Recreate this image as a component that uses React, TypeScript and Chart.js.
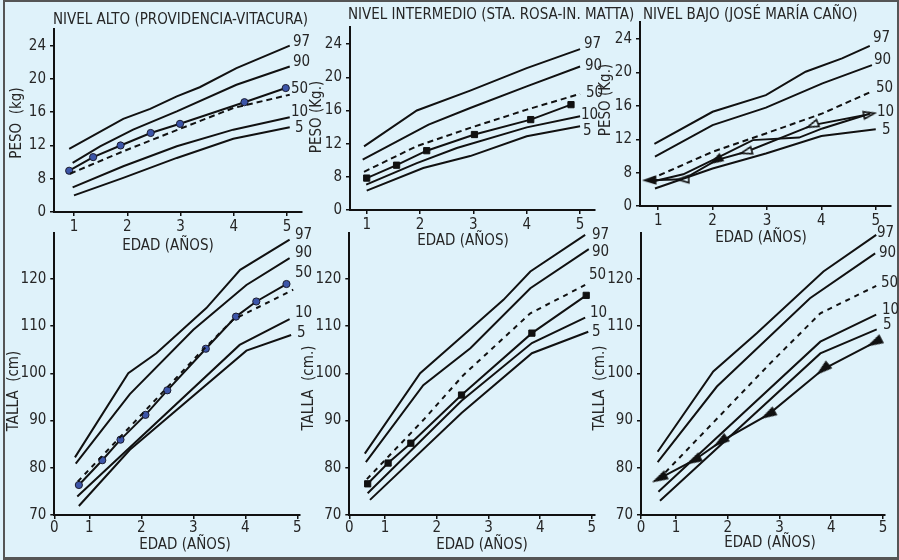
import React, { useEffect, useRef } from "react";
import { Chart, registerables } from "chart.js";

Chart.register(...registerables);

type Pt = [number, number];

// ---------------- DATA (age in years, value) ----------------
// PESO – nivel alto
const PESO_ALTO_P97: Pt[] = [[0.91, 11.6], [1.925, 15.2], [2.43, 16.4], [2.93, 17.9], [3.36, 19.0], [4.05, 21.3], [5.05, 24.0]];
const PESO_ALTO_P90: Pt[] = [[0.975, 9.9], [1.49, 11.9], [2.11, 13.9], [2.93, 16.1], [4.05, 19.3], [5.05, 21.5]];
const PESO_ALTO_P50: Pt[] = [[0.925, 8.6], [1.925, 11.3], [2.99, 14.0], [3.99, 16.5], [5.05, 18.1]];
const PESO_ALTO_P10: Pt[] = [[0.975, 6.96], [1.925, 9.5], [2.93, 11.9], [3.99, 13.9], [5.05, 15.4]];
const PESO_ALTO_P5: Pt[] = [[1.0, 6.0], [1.925, 8.1], [2.93, 10.5], [3.99, 12.8], [5.05, 14.2]];
const PESO_ALTO_OBS: Pt[] = [[0.91, 8.96], [1.36, 10.6], [1.875, 12.0], [2.44, 13.5], [2.99, 14.6], [4.2, 17.2], [4.975, 18.9]];

// PESO – nivel intermedio
const PESO_INT_P97: Pt[] = [[0.95, 11.67], [1.94, 16.0], [2.94, 18.4], [4.0, 21.1], [5.0, 23.4]];
const PESO_INT_P90: Pt[] = [[0.925, 10.06], [2.16, 14.3], [2.94, 16.3], [4.0, 18.9], [5.0, 21.3]];
const PESO_INT_P50: Pt[] = [[0.95, 8.6], [1.94, 11.7], [2.94, 13.9], [4.0, 16.1], [5.0, 18.0]];
const PESO_INT_P10: Pt[] = [[0.99, 7.05], [1.94, 9.66], [2.69, 11.47], [4.0, 13.96], [5.0, 15.3]];
const PESO_INT_P5: Pt[] = [[1.0, 6.33], [2.06, 9.06], [2.94, 10.5], [4.0, 12.9], [5.0, 14.1]];
const PESO_INT_OBS: Pt[] = [[1.0, 7.85], [1.56, 9.4], [2.125, 11.15], [3.02, 13.1], [4.075, 14.9], [4.83, 16.7]];

// PESO – nivel bajo
const PESO_BAJO_P97: Pt[] = [[0.93, 11.44], [2.0, 15.3], [2.98, 17.3], [3.71, 20.1], [4.38, 21.7], [4.89, 23.2]];
const PESO_BAJO_P90: Pt[] = [[0.94, 9.92], [2.0, 13.7], [2.98, 15.8], [4.02, 18.7], [4.93, 20.9]];
const PESO_BAJO_P50: Pt[] = [[0.85, 7.2], [2.0, 10.5], [2.98, 12.7], [4.02, 15.1], [4.88, 17.6]];
const PESO_BAJO_P10: Pt[] = [[0.88, 6.9], [1.46, 7.8], [2.0, 9.5], [2.74, 11.9], [3.59, 12.2], [4.02, 13.3], [4.9, 15.1]];
const PESO_BAJO_P5: Pt[] = [[0.94, 6.1], [2.0, 8.5], [2.98, 10.3], [4.0, 12.4], [5.0, 13.2]];
const PESO_BAJO_OBS: Pt[] = [[0.85, 7.1], [1.46, 7.2], [2.07, 9.5], [2.62, 10.5], [3.84, 13.7], [4.88, 15.0]];

// TALLA – nivel alto
const TALLA_ALTO_P97: Pt[] = [[0.725, 82.2], [1.75, 100.0], [2.29, 104.25], [3.25, 113.8], [3.9, 121.9], [4.85, 128.3]];
const TALLA_ALTO_P90: Pt[] = [[0.74, 80.9], [1.78, 95.6], [3.0, 109.2], [4.02, 118.7], [4.85, 124.4]];
const TALLA_ALTO_P50: Pt[] = [[0.78, 77.1], [1.845, 89.4], [3.12, 104.25], [3.76, 111.3], [4.92, 117.7]];
const TALLA_ALTO_P10: Pt[] = [[0.77, 73.9], [3.89, 106.0], [4.85, 111.45]];
const TALLA_ALTO_P5: Pt[] = [[0.8, 71.9], [1.78, 83.8], [4.02, 104.8], [4.88, 108.1]];
const TALLA_ALTO_OBS: Pt[] = [[0.8, 76.35], [1.25, 81.6], [1.6, 85.95], [2.08, 91.2], [2.5, 96.4], [3.24, 105.2], [3.82, 112.0], [4.21, 115.2], [4.79, 118.9]];

// TALLA – nivel intermedio
const TALLA_INT_P97: Pt[] = [[0.61, 83.0], [1.68, 100.0], [2.52, 108.1], [3.29, 115.55], [3.81, 121.55], [4.87, 129.3]];
const TALLA_INT_P90: Pt[] = [[0.63, 81.2], [1.74, 97.5], [2.65, 105.3], [3.81, 118.0], [4.94, 126.3]];
const TALLA_INT_P50: Pt[] = [[0.65, 77.6], [1.74, 90.1], [2.52, 99.66], [3.81, 112.7], [4.87, 118.7]];
const TALLA_INT_P10: Pt[] = [[0.665, 74.6], [2.48, 94.2], [3.84, 106.4], [4.87, 111.8]];
const TALLA_INT_P5: Pt[] = [[0.71, 73.2], [2.48, 91.6], [3.84, 104.25], [4.93, 108.8]];
const TALLA_INT_OBS: Pt[] = [[0.665, 76.6], [1.06, 81.0], [1.5, 85.2], [2.48, 95.4], [3.84, 108.5], [4.89, 116.5]];

// TALLA – nivel bajo
const TALLA_BAJO_P97: Pt[] = [[0.645, 83.4], [1.72, 100.4], [2.56, 108.5], [3.85, 121.55], [4.87, 129.3]];
const TALLA_BAJO_P90: Pt[] = [[0.645, 81.2], [1.79, 97.2], [3.59, 115.9], [4.85, 125.4]];
const TALLA_BAJO_P50: Pt[] = [[0.66, 77.5], [2.82, 102.1], [3.79, 112.7], [4.87, 118.5]];
const TALLA_BAJO_P10: Pt[] = [[0.66, 74.9], [3.79, 106.7], [4.87, 112.4]];
const TALLA_BAJO_P5: Pt[] = [[0.69, 73.0], [3.79, 104.2], [4.88, 109.3]];
const TALLA_BAJO_OBS: Pt[] = [[0.69, 77.8], [1.35, 81.6], [1.87, 85.6], [2.79, 91.3], [3.85, 100.9], [4.85, 106.6]];

// tick values
const AGE_TICKS_TOP = [1, 2, 3, 4, 5];
const AGE_TICKS_BOTTOM = [1, 2, 3, 4, 5];
const PESO_TICKS = [8, 12, 16, 20, 24];
const TALLA_TICKS = [70, 80, 90, 100, 110, 120];

// ---------------- STYLE / LAYOUT ----------------
const W = 899;
const H = 560;
const BG = "#dff2fa";
const INK = "#111111";
const TEXT = "#262626";
const FONT = "'Liberation Sans Narrow', 'Arial Narrow', 'DejaVu Sans Condensed', sans-serif";
const FS = 15;
const Y_W = 44;
const X_H = 30;

type TextItem = { t: string; x: number; y: number; align?: CanvasTextAlign; rot?: boolean; size?: number };

type Marker =
  | { kind: "dot"; radius: number; bg: string; border: string }
  | { kind: "square"; radius: number }
  | { kind: "arrow"; len: number; half: number; filled: boolean[]; flipLast: boolean };

type PanelDef = {
  area: { left: number; right: number; top: number; bottom: number };
  x: { min: number; max: number; ticks: number[]; zeroAtMin: boolean; pad: number };
  y: { min: number; max: number; ticks: number[]; zeroAtMin: boolean };
  series: { p97: Pt[]; p90: Pt[]; p50: Pt[]; p10: Pt[]; p5: Pt[]; obs: Pt[] };
  marker: Marker;
  dash: number[];
  texts: TextItem[];
};

const dotMarker: Marker = { kind: "dot", radius: 3.6, bg: "#3c55a8", border: "#1b1b2e" };
const squareMarker: Marker = { kind: "square", radius: 4.4 };

const PANELS: PanelDef[] = [
  {
    area: { left: 54, right: 302, top: 29, bottom: 212 },
    x: { min: 0.625, max: 5.28, ticks: AGE_TICKS_TOP, zeroAtMin: false, pad: 2 },
    y: { min: 4, max: 26, ticks: PESO_TICKS, zeroAtMin: true },
    series: { p97: PESO_ALTO_P97, p90: PESO_ALTO_P90, p50: PESO_ALTO_P50, p10: PESO_ALTO_P10, p5: PESO_ALTO_P5, obs: PESO_ALTO_OBS },
    marker: dotMarker,
    dash: [6, 4],
    texts: [
      { t: "NIVEL ALTO (PROVIDENCIA-VITACURA)", x: 53, y: 20.5, align: "left" },
      { t: "PESO  (kg)", x: 17, y: 123, rot: true },
      { t: "EDAD (AÑOS)", x: 168, y: 246 },
      { t: "97", x: 293, y: 42, align: "left" },
      { t: "90", x: 293, y: 62, align: "left" },
      { t: "50", x: 291, y: 89, align: "left" },
      { t: "10", x: 291, y: 112, align: "left" },
      { t: "5", x: 295, y: 128, align: "left" },
    ],
  },
  {
    area: { left: 350, right: 595, top: 26.7, bottom: 210 },
    x: { min: 0.687, max: 5.28, ticks: AGE_TICKS_TOP, zeroAtMin: false, pad: 2 },
    y: { min: 4, max: 26.1, ticks: PESO_TICKS, zeroAtMin: true },
    series: { p97: PESO_INT_P97, p90: PESO_INT_P90, p50: PESO_INT_P50, p10: PESO_INT_P10, p5: PESO_INT_P5, obs: PESO_INT_OBS },
    marker: squareMarker,
    dash: [6, 4],
    texts: [
      { t: "NIVEL INTERMEDIO (STA. ROSA-IN. MATTA)", x: 348, y: 15, align: "left" },
      { t: "PESO (Kg.)", x: 317, y: 117, rot: true },
      { t: "EDAD (AÑOS)", x: 463, y: 241 },
      { t: "97", x: 584, y: 44, align: "left" },
      { t: "90", x: 585, y: 66, align: "left" },
      { t: "50", x: 586, y: 93, align: "left" },
      { t: "10", x: 581, y: 115, align: "left" },
      { t: "5", x: 583, y: 131, align: "left" },
    ],
  },
  {
    area: { left: 640, right: 892, top: 21.7, bottom: 206 },
    x: { min: 0.665, max: 5.28, ticks: AGE_TICKS_TOP, zeroAtMin: false, pad: 2 },
    y: { min: 4, max: 26.1, ticks: PESO_TICKS, zeroAtMin: true },
    series: { p97: PESO_BAJO_P97, p90: PESO_BAJO_P90, p50: PESO_BAJO_P50, p10: PESO_BAJO_P10, p5: PESO_BAJO_P5, obs: PESO_BAJO_OBS },
    marker: { kind: "arrow", len: 11, half: 3.6, filled: [true, false, true, false, false, false], flipLast: true },
    dash: [6, 4],
    texts: [
      { t: "NIVEL BAJO (JOSÉ MARÍA CAÑO)", x: 643, y: 15, align: "left" },
      { t: "PESO (Kg.)", x: 606, y: 100, rot: true },
      { t: "EDAD (AÑOS)", x: 761, y: 238 },
      { t: "97", x: 873, y: 38, align: "left" },
      { t: "90", x: 874, y: 60, align: "left" },
      { t: "50", x: 876, y: 88, align: "left" },
      { t: "10", x: 877, y: 112, align: "left" },
      { t: "5", x: 882, y: 130, align: "left" },
    ],
  },
  {
    area: { left: 54.3, right: 300, top: 233, bottom: 515 },
    x: { min: 0.328, max: 5.05, ticks: AGE_TICKS_BOTTOM, zeroAtMin: true, pad: 0 },
    y: { min: 70, max: 129.7, ticks: TALLA_TICKS, zeroAtMin: false },
    series: { p97: TALLA_ALTO_P97, p90: TALLA_ALTO_P90, p50: TALLA_ALTO_P50, p10: TALLA_ALTO_P10, p5: TALLA_ALTO_P5, obs: TALLA_ALTO_OBS },
    marker: dotMarker,
    dash: [5, 5],
    texts: [
      { t: "TALLA  (cm)", x: 14, y: 391, rot: true },
      { t: "EDAD (AÑOS)", x: 185, y: 545 },
      { t: "97", x: 295, y: 235, align: "left" },
      { t: "90", x: 295, y: 253, align: "left" },
      { t: "50", x: 295, y: 273, align: "left" },
      { t: "10", x: 295, y: 313, align: "left" },
      { t: "5", x: 297, y: 333, align: "left" },
    ],
  },
  {
    area: { left: 349.3, right: 595, top: 233, bottom: 515 },
    x: { min: 0.31, max: 5.06, ticks: AGE_TICKS_BOTTOM, zeroAtMin: true, pad: 0 },
    y: { min: 70, max: 129.7, ticks: TALLA_TICKS, zeroAtMin: false },
    series: { p97: TALLA_INT_P97, p90: TALLA_INT_P90, p50: TALLA_INT_P50, p10: TALLA_INT_P10, p5: TALLA_INT_P5, obs: TALLA_INT_OBS },
    marker: squareMarker,
    dash: [5, 5],
    texts: [
      { t: "TALLA  (cm.)", x: 309, y: 388, rot: true },
      { t: "EDAD (AÑOS)", x: 482, y: 545 },
      { t: "97", x: 592, y: 235, align: "left" },
      { t: "90", x: 592, y: 252, align: "left" },
      { t: "50", x: 589, y: 275, align: "left" },
      { t: "10", x: 590, y: 313, align: "left" },
      { t: "5", x: 592, y: 332, align: "left" },
    ],
  },
  {
    area: { left: 641, right: 885, top: 233, bottom: 515 },
    x: { min: 0.323, max: 5.04, ticks: AGE_TICKS_BOTTOM, zeroAtMin: true, pad: 0 },
    y: { min: 70, max: 129.7, ticks: TALLA_TICKS, zeroAtMin: false },
    series: { p97: TALLA_BAJO_P97, p90: TALLA_BAJO_P90, p50: TALLA_BAJO_P50, p10: TALLA_BAJO_P10, p5: TALLA_BAJO_P5, obs: TALLA_BAJO_OBS },
    marker: { kind: "arrow", len: 13, half: 4, filled: [true], flipLast: false },
    dash: [5, 5],
    texts: [
      { t: "TALLA  (cm.)", x: 600, y: 388, rot: true },
      { t: "EDAD (AÑOS)", x: 770, y: 543 },
      { t: "97", x: 877, y: 233, align: "left" },
      { t: "90", x: 879, y: 253, align: "left" },
      { t: "50", x: 881, y: 283, align: "left" },
      { t: "10", x: 882, y: 310, align: "left" },
      { t: "5", x: 883, y: 325, align: "left" },
    ],
  },
];

// ---------------- CHART BUILDING ----------------
const toXY = (pts: Pt[]) => pts.map(([x, y]) => ({ x, y }));

function makeArrow(len: number, half: number, filled: boolean): HTMLCanvasElement {
  const c = document.createElement("canvas");
  const w = Math.ceil(len + 4);
  const h = Math.ceil(2 * half + 4);
  c.width = w;
  c.height = h;
  const g = c.getContext("2d")!;
  g.beginPath();
  g.moveTo(2, h / 2);
  g.lineTo(w - 2, h / 2 - half);
  g.lineTo(w - 2, h / 2 + half);
  g.closePath();
  g.fillStyle = filled ? INK : BG;
  g.fill();
  g.lineWidth = 1.6;
  g.lineJoin = "miter";
  g.strokeStyle = INK;
  g.stroke();
  return c;
}

function textPlugin(texts: TextItem[]) {
  return {
    id: "panelTexts",
    afterDraw(chart: any) {
      const ctx: CanvasRenderingContext2D = chart.ctx;
      ctx.save();
      ctx.fillStyle = TEXT;
      ctx.textBaseline = "middle";
      for (const tx of texts) {
        ctx.font = `${tx.size ?? FS}px ${FONT}`;
        if (tx.rot) {
          ctx.save();
          ctx.translate(tx.x, tx.y);
          ctx.rotate(-Math.PI / 2);
          ctx.textAlign = "center";
          ctx.fillText(tx.t, 0, 0);
          ctx.restore();
        } else {
          ctx.textAlign = tx.align ?? "center";
          ctx.fillText(tx.t, tx.x, tx.y);
        }
      }
      ctx.restore();
    },
  };
}

function lineDs(label: string, pts: Pt[], dash: number[] = []) {
  return {
    label,
    data: toXY(pts),
    borderColor: INK,
    borderWidth: 2,
    borderDash: dash,
    pointRadius: 0,
    tension: 0,
    fill: false,
  };
}

function markerOptions(m: Marker): any {
  if (m.kind === "dot") {
    return { pointStyle: "circle", pointRadius: m.radius, pointBackgroundColor: m.bg, pointBorderColor: m.border, pointBorderWidth: 1 };
  }
  if (m.kind === "square") {
    return { pointStyle: "rect", pointRadius: m.radius, pointBackgroundColor: INK, pointBorderColor: INK, pointBorderWidth: 1 };
  }
  const filledImg = makeArrow(m.len, m.half, true);
  const openImg = makeArrow(m.len, m.half, false);
  return {
    pointRadius: 6,
    pointStyle: (c: any) => (m.filled[c.dataIndex % m.filled.length] ? filledImg : openImg),
    pointRotation: (c: any) => {
      const chart = c.chart;
      const data = c.dataset.data as { x: number; y: number }[];
      const i = c.dataIndex;
      const xs = chart.scales.x;
      const ys = chart.scales.y;
      if (!data || data.length < 2 || !xs || !ys) return 0;
      const j0 = i > 0 ? i - 1 : 0;
      const j1 = i > 0 ? i : 1;
      const ax = xs.getPixelForValue(data[j0].x);
      const ay = ys.getPixelForValue(data[j0].y);
      const bx = xs.getPixelForValue(data[j1].x);
      const by = ys.getPixelForValue(data[j1].y);
      let ang = (Math.atan2(ay - by, ax - bx) * 180) / Math.PI;
      if (m.flipLast && i === data.length - 1) ang += 180;
      return ang - 180;
    },
  };
}

function buildConfig(p: PanelDef): any {
  const s = p.series;
  const yTicks = p.y.zeroAtMin ? [p.y.min, ...p.y.ticks] : p.y.ticks;
  const xTicks = p.x.zeroAtMin ? [p.x.min, ...p.x.ticks] : p.x.ticks;
  const tickFont = { family: FONT, size: FS };
  return {
    type: "line",
    data: {
      datasets: [
        lineDs("97", s.p97),
        lineDs("90", s.p90),
        lineDs("50", s.p50, p.dash),
        lineDs("10", s.p10),
        lineDs("5", s.p5),
        {
          label: "obs",
          data: toXY(s.obs),
          borderColor: INK,
          borderWidth: 2,
          tension: 0,
          fill: false,
          ...markerOptions(p.marker),
        },
      ],
    },
    options: {
      responsive: false,
      animation: false,
      devicePixelRatio: 1,
      events: [],
      layout: {
        padding: {
          left: p.area.left - Y_W,
          top: p.area.top,
          right: W - p.area.right,
          bottom: H - p.area.bottom - X_H,
        },
      },
      plugins: { legend: { display: false }, tooltip: { enabled: false }, title: { display: false } },
      scales: {
        x: {
          type: "linear",
          min: p.x.min,
          max: p.x.max,
          afterBuildTicks: (sc: any) => {
            sc.ticks = xTicks.map((v) => ({ value: v }));
          },
          afterFit: (sc: any) => {
            sc.height = X_H;
          },
          ticks: {
            font: tickFont,
            color: TEXT,
            padding: p.x.pad,
            autoSkip: false,
            maxRotation: 0,
            callback: (v: number) => (p.x.zeroAtMin && v === p.x.min ? "0" : String(v)),
          },
          grid: { display: true, drawOnChartArea: false, drawTicks: true, tickLength: 4, color: INK, lineWidth: 1.5 },
          border: { display: true, color: INK, width: 2 },
        },
        y: {
          type: "linear",
          min: p.y.min,
          max: p.y.max,
          afterBuildTicks: (sc: any) => {
            sc.ticks = yTicks.map((v) => ({ value: v }));
          },
          afterFit: (sc: any) => {
            sc.width = Y_W;
          },
          ticks: {
            font: tickFont,
            color: TEXT,
            padding: 4,
            autoSkip: false,
            callback: (v: number) => (p.y.zeroAtMin && v === p.y.min ? "0" : String(v)),
          },
          grid: { display: true, drawOnChartArea: false, drawTicks: true, tickLength: 4, color: INK, lineWidth: 1.5 },
          border: { display: true, color: INK, width: 2 },
        },
      },
    },
    plugins: [textPlugin(p.texts)],
  };
}

function PanelChart({ def }: { def: PanelDef }) {
  const ref = useRef<HTMLCanvasElement | null>(null);
  useEffect(() => {
    if (!ref.current) return;
    const chart = new Chart(ref.current, buildConfig(def));
    return () => chart.destroy();
  }, [def]);
  return (
    <canvas
      ref={ref}
      width={W}
      height={H}
      style={{ position: "absolute", left: 0, top: 0, width: W, height: H }}
    />
  );
}

export default function App() {
  return (
    <div style={{ position: "fixed", left: 0, top: 0, width: W, height: H, background: BG, overflow: "hidden" }}>
      <div
        style={{
          position: "absolute",
          left: 3,
          top: 0,
          width: W - 3,
          height: H,
          boxSizing: "border-box",
          borderLeft: "2px solid #555",
          borderTop: "2px solid #555",
          borderRight: "2px solid #555",
          borderBottom: "3px solid #555",
        }}
      />
      {PANELS.map((p, i) => (
        <PanelChart key={i} def={p} />
      ))}
    </div>
  );
}
